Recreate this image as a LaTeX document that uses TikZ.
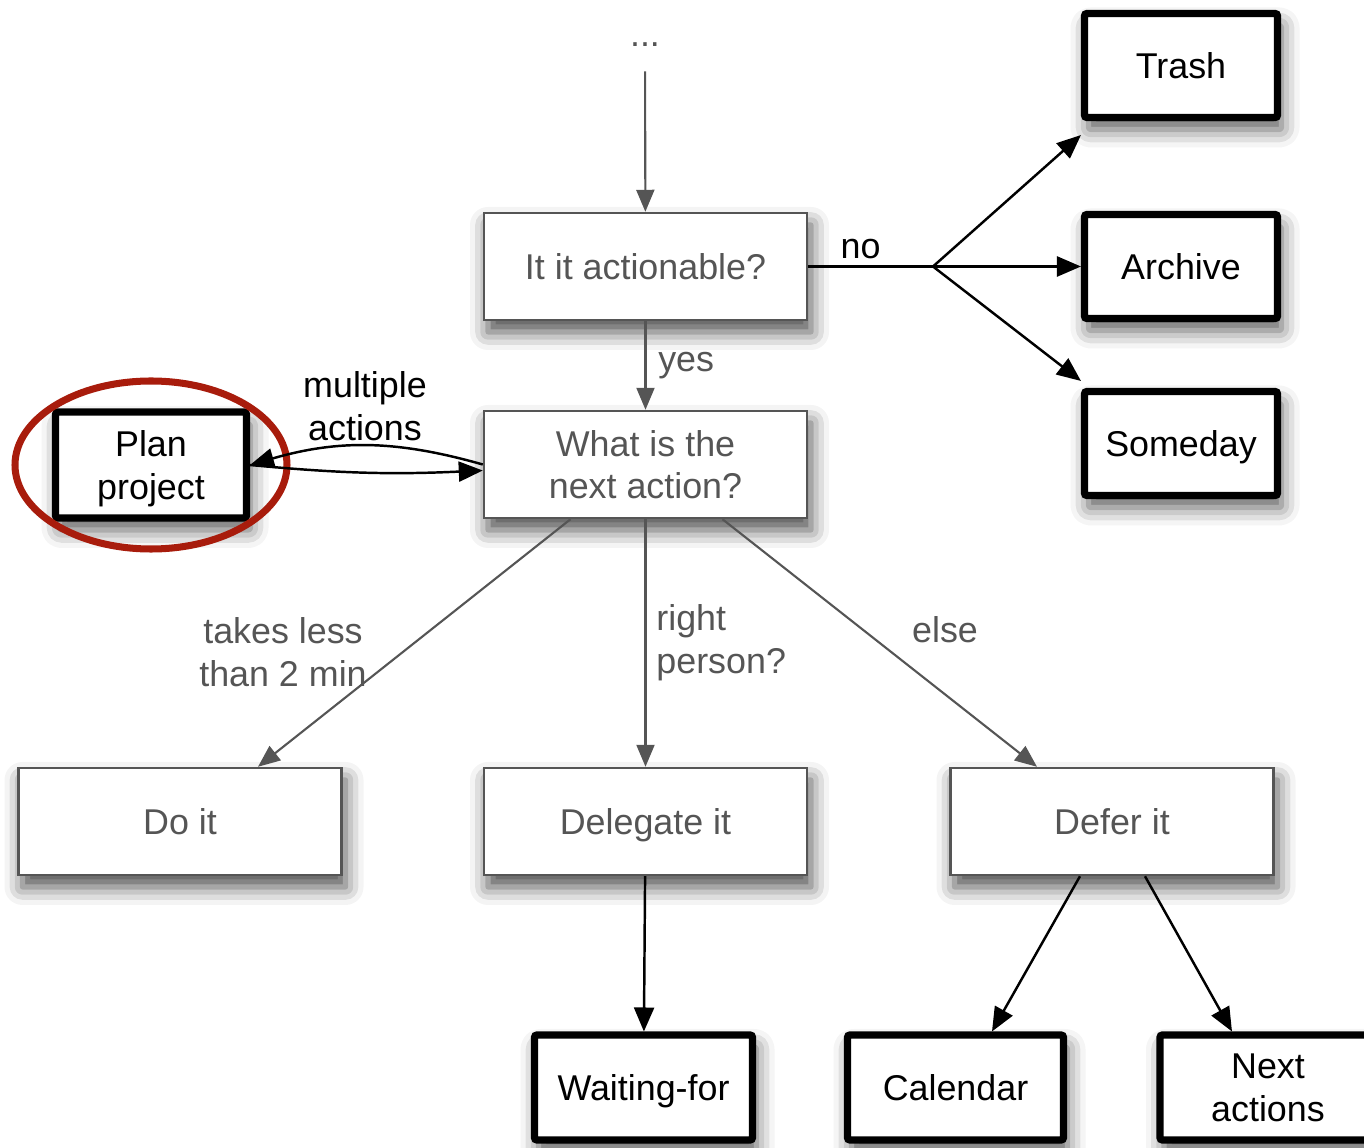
\documentclass[tikz,border=0pt]{standalone}
\usepackage{fontspec}
\setmainfont{Liberation Sans}
\usepackage{xcolor}
\usetikzlibrary{arrows.meta,positioning,calc,shadows.blur}
\definecolor{boxgray}{HTML}{555555}
\definecolor{ringred}{HTML}{A81C0C}

\begin{document}
\begin{tikzpicture}[
  x=1cm,y=1cm,
  every node/.style={font=\fontsize{10.2pt}{12.2pt}\selectfont},
  gwire/.style={-{Triangle[length=2.2mm,width=1.8mm]},draw=boxgray,
                line width=0.6pt},
  bwire/.style={-{Triangle[length=2.4mm,width=2mm]},line width=0.7pt},
  plainwire/.style={line width=0.7pt},
  qbox/.style={draw=boxgray,line width=0.7pt,fill=white,text=boxgray,
               align=center,minimum width=3.23cm,minimum height=1.07cm,
               inner sep=0pt,text depth=0pt,
               blur shadow={shadow xshift=0.4mm,shadow yshift=-1.2mm,
                            shadow blur radius=1.8mm,shadow opacity=70}},
  listbox/.style={draw,line width=2pt,rounded corners=0.6pt,fill=white,
                  align=center,minimum width=1.93cm,minimum height=1.04cm,
                  inner sep=0pt,text depth=0pt,
                  blur shadow={shadow xshift=0.4mm,shadow yshift=-1.2mm,
                               shadow blur radius=1.8mm,shadow opacity=65}},
  glabel/.style={text=boxgray,align=center},
  blabel/.style={align=center},
  ring/.style={draw=ringred,line width=2pt}
]
\useasboundingbox (0,0) rectangle (13.64,11.48);

% Question boxes
\node[glabel] (dots) at (6.45,11.03) {...};
\node[qbox] (act) at (6.455,8.815) {It it actionable?};
\node[qbox] (nxt) at (6.455,6.835) {What is the\\next action?};
\node[qbox] (doit) at (1.80,3.265) {Do it};
\node[qbox] (deleg) at (6.455,3.265) {Delegate it};
\node[qbox] (defer) at (11.12,3.265) {Defer it};

% Lists
\node[listbox] (trash) at (11.81,10.825) {Trash};
\node[listbox] (archive) at (11.81,8.815) {Archive};
\node[listbox] (someday) at (11.81,7.045) {Someday};
\node[listbox,minimum width=1.91cm,minimum height=1.06cm] (plan)
  at (1.51,6.83) {Plan\\project};
\node[listbox,minimum width=2.18cm,minimum height=1.05cm] (waiting)
  at (6.435,0.605) {Waiting-for};
\node[listbox,minimum width=2.16cm,minimum height=1.05cm] (calendar)
  at (9.555,0.605) {Calendar};
\node[listbox,minimum width=2.16cm,minimum height=1.05cm] (nextact)
  at (12.68,0.605) {Next\\actions};

\draw[ring] (plan.center) ellipse [x radius=1.36cm,y radius=0.84cm];

% Not actionable
\coordinate (fork) at (9.33,8.815);
\draw[plainwire] (act.east) -- node[blabel,above,pos=0.42,yshift=-1.4pt] {no} (fork);
\draw[bwire] (fork) -- ([yshift=-1.4mm]trash.south west);
\draw[bwire] (fork) -- (archive.west);
\draw[bwire] (fork) -- ([yshift=0.7mm]someday.north west);

% Actionable
\draw[gwire,shorten <=1.2mm] (dots) -- (act);
\draw[gwire] (act) -- node[glabel,right] {yes} (nxt);
\draw[bwire] (nxt.west) to[bend right=16] (plan.east);
\draw[bwire] (plan.east) to[bend right=4] ([yshift=-0.6mm]nxt.west);
\node[blabel] (lblmulti) at (3.65,7.42) {multiple\\actions};

\draw[gwire] ([xshift=-7.5mm]nxt.south) -- ([xshift=7.8mm]doit.north);
\draw[gwire] (nxt) -- (deleg);
\draw[gwire] ([xshift=7.7mm]nxt.south) -- ([xshift=-7.5mm]defer.north);
\node[glabel] (lblshort) at (2.83,4.96) {takes less\\than 2 min};
\node[glabel,anchor=west,align=left] (lblright) at (6.44,5.05)
  {right\\person?};
\node[glabel] (lblelse) at (9.45,5.18) {else};

% Into lists
\draw[bwire] (deleg) -- (waiting);
\draw[bwire] ([xshift=-3.2mm]defer.south) -- ([xshift=3.65mm]calendar.north);
\draw[bwire] ([xshift=3.3mm]defer.south) -- ([xshift=-3.6mm]nextact.north);
\end{tikzpicture}
\end{document}
